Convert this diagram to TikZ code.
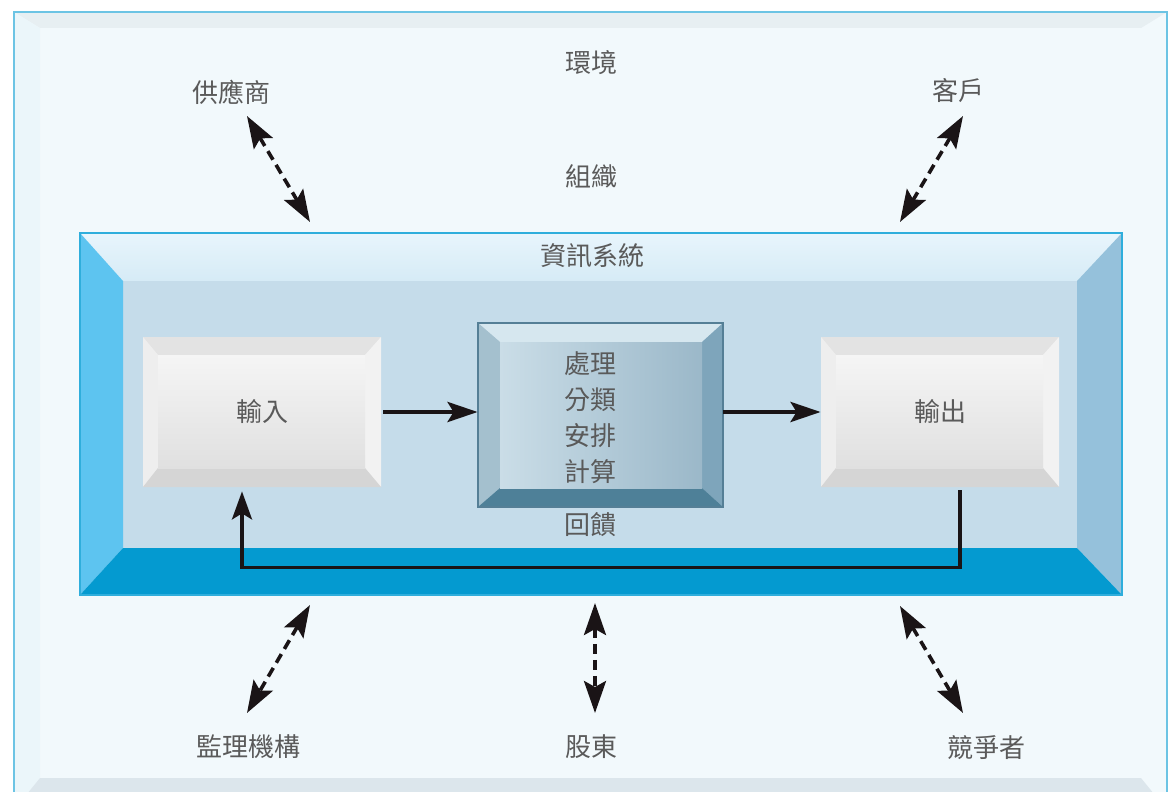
\documentclass[tikz,border=0pt]{standalone}
\usepackage{fontspec}
\newfontfamily\cjk{Noto Sans CJK TC}
\usetikzlibrary{positioning, arrows.meta}

\definecolor{pagebg}{HTML}{F2F9FC}
\definecolor{pagetop}{HTML}{E7EFF2}
\definecolor{pageside}{HTML}{EBF6FA}
\definecolor{pagebottom}{HTML}{DCE6EC}
\definecolor{pageline}{HTML}{6CC4E4}
\definecolor{infotopA}{HTML}{E8F5FC}
\definecolor{infotopB}{HTML}{D6EBF6}
\definecolor{infoinner}{HTML}{C5DCEA}
\definecolor{infoleft}{HTML}{5DC4F0}
\definecolor{inforight}{HTML}{95C1DB}
\definecolor{infobottom}{HTML}{049AD0}
\definecolor{infoline}{HTML}{2FAEDC}
\definecolor{keyring}{HTML}{E9E9E9}
\definecolor{keytop}{HTML}{E3E3E3}
\definecolor{keyleft}{HTML}{EEEEEE}
\definecolor{keyright}{HTML}{F2F2F2}
\definecolor{keybottom}{HTML}{D5D5D5}
\definecolor{keyfaceA}{HTML}{F5F5F5}
\definecolor{keyfaceB}{HTML}{E0E0E0}
\definecolor{proctop}{HTML}{D6E7EF}
\definecolor{procleft}{HTML}{A4C0CE}
\definecolor{procright}{HTML}{7EA5BB}
\definecolor{procbottom}{HTML}{4E8098}
\definecolor{procfaceA}{HTML}{CADDE7}
\definecolor{procfaceB}{HTML}{9BB8C9}
\definecolor{procline}{HTML}{557F96}
\definecolor{txtgray}{HTML}{5A5A5A}
\definecolor{arrowblack}{HTML}{1A1416}

\begin{document}
\begin{tikzpicture}[
        x=0.5pt, y=-0.5pt,
        every node/.style={align=center, inner sep=0pt},
        txt/.style={font=\cjk\fontsize{13}{18}\selectfont, text=txtgray},
        key/.style={rectangle, minimum width=119pt, minimum height=75pt},
        procbox/.style={rectangle, minimum width=122.5pt, minimum height=92pt},
        flow/.style={-{Stealth[length=15pt, width=10pt, inset=3pt]}, line width=2.2pt, draw=arrowblack},
        back/.style={-{Stealth[length=14pt, width=10pt, inset=3pt]}, line width=1.8pt, draw=arrowblack},
        link/.style={{Stealth[length=16pt, width=11pt, inset=3pt]}-{Stealth[length=16pt, width=11pt, inset=3pt]},
            line width=1.8pt, draw=arrowblack, dash pattern=on 5pt off 3pt}
    ]
    \useasboundingbox (0,0) rectangle (1169,792);
    \clip (0,0) rectangle (1169,792);

    % Environment frame
    \fill[white] (0,0) rectangle (1169,792);
    \fill[pagebg] (14,12) rectangle (1167,810);
    \fill[pagetop] (14,12) -- (1167,12) -- (1141,28) -- (40,28) -- cycle;
    \fill[pageside] (14,12) -- (40,28) -- (40,778) -- (14,810) -- cycle;
    \fill[pagebottom] (14,810) -- (40,778) -- (1141,778) -- (1167,810) -- cycle;
    \draw[pageline, line width=1pt] (14,810) -- (14,12) -- (1167,12) -- (1167,810);

    % Information system frame
    \fill[infoinner] (123,281) rectangle (1077,548);
    \shade[top color=infotopA, bottom color=infotopB] (80,233) -- (1122,233) -- (1077,281) -- (123,281) -- cycle;
    \fill[infoleft] (80,233) -- (123,281) -- (123,548) -- (80,595) -- cycle;
    \fill[inforight] (1122,233) -- (1077,281) -- (1077,548) -- (1122,595) -- cycle;
    \fill[infobottom] (80,595) -- (123,548) -- (1077,548) -- (1122,595) -- cycle;
    \draw[infoline, line width=1pt] (80,233) rectangle (1122,595);

    % Input and output keys
    \foreach \x in {143, 821} {
        \fill[keyring] (\x,337) rectangle ({\x+238},487);
        \fill[keytop] (\x,337) -- ({\x+238},337) -- ({\x+222},355) -- ({\x+15},355) -- cycle;
        \fill[keyleft] (\x,337) -- ({\x+15},355) -- ({\x+15},468) -- (\x,487) -- cycle;
        \fill[keyright] ({\x+238},337) -- ({\x+222},355) -- ({\x+222},468) -- ({\x+238},487) -- cycle;
        \fill[keybottom] (\x,487) -- ({\x+15},468) -- ({\x+222},468) -- ({\x+238},487) -- cycle;
        \shade[top color=keyfaceA, bottom color=keyfaceB] ({\x+15},355) rectangle ({\x+222},468);
    }

    % Processing key
    \fill[proctop] (478,323) -- (723,323) -- (702,342) -- (500,342) -- cycle;
    \fill[procleft] (478,323) -- (500,342) -- (500,488) -- (478,507) -- cycle;
    \fill[procright] (723,323) -- (702,342) -- (702,488) -- (723,507) -- cycle;
    \fill[procbottom] (478,507) -- (500,488) -- (702,488) -- (723,507) -- cycle;
    \shade[left color=procfaceA, right color=procfaceB] (500,342) rectangle (702,488);
    \draw[procline, line width=0.8pt] (478,323) rectangle (723,507);

    % Nodes
    \node[key, txt] (in) at (262,412) {輸入};
    \node[key, txt] (out) at (940,412) {輸出};
    \node[procbox] (proc) at (600.5,415) {};
    \node[txt] (steps) at (590,418) {處理\\分類\\安排\\計算};
    \node[txt] (feedback) at (590,525) {回饋};

    % Labels
    \node[txt] (env) at (591,63) {環境};
    \node[txt] (org) at (591,176) {組織};
    \node[txt] (sys) at (592,256) {資訊系統};
    \node[txt] (supplier) at (231,92) {供應商};
    \node[txt] (customer) at (958,91) {客戶};
    \node[txt] (regulator) at (248,747) {監理機構};
    \node[txt] (holder) at (591,747) {股東};
    \node[txt] (rival) at (986,748) {競爭者};

    % Arrow ends
    \coordinate (supplier-a) at (247,116);
    \coordinate (supplier-b) at (310,222);
    \coordinate (customer-a) at (963,116);
    \coordinate (customer-b) at (900,222);
    \coordinate (regulator-a) at (310,605);
    \coordinate (regulator-b) at (247,713);
    \coordinate (holder-a) at (595,603);
    \coordinate (holder-b) at (595,713);
    \coordinate (rival-a) at (900,606);
    \coordinate (rival-b) at (963,713);

    % Arrows
    \draw[flow] ([xshift=1pt]in.east) -- (in.east -| proc.west);
    \draw[flow] (proc.east |- out.west) -- (out.west);
    \draw[back, shorten <=1.5pt] ([xshift=10pt]out.south) -- ++(0,80) -| ([xshift=-10pt, yshift=-2pt]in.south);

    % Environment arrows
    \draw[link] (supplier-a) -- (supplier-b);
    \draw[link] (customer-a) -- (customer-b);
    \draw[link] (regulator-a) -- (regulator-b);
    \draw[link] (holder-a) -- (holder-b);
    \draw[link] (rival-a) -- (rival-b);

\end{tikzpicture}
\end{document}
